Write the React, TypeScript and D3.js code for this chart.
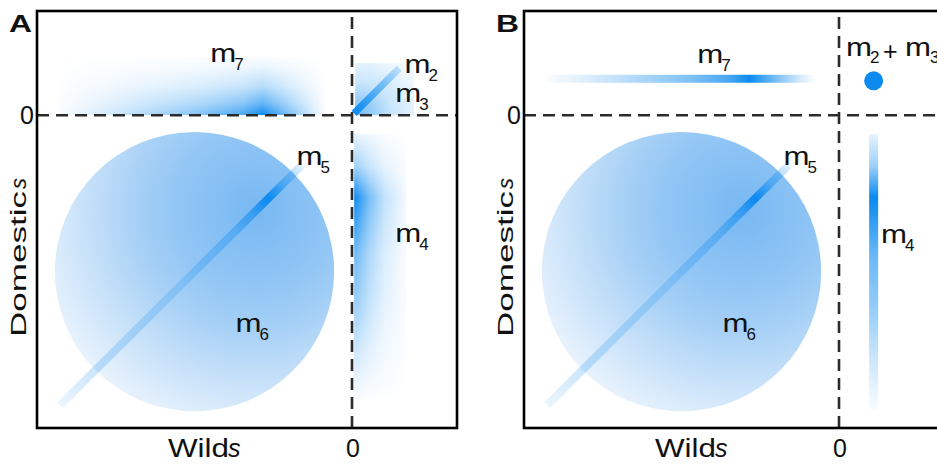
import * as d3 from "d3";

const W = 937;
const H = 464;
const BLUE = "#0b8af0";
const INK = "#111";
const DASH = "#2b2b2b";
const FONT = "'Liberation Sans', Arial, Helvetica, sans-serif";

// both axes are selection coefficients, zero sits at 3/4 of the way
const S_DOMAIN: [number, number] = [-3, 1];
const ZERO_TICK = ["0"];
const PANELS = ["A", "B"];
const X_TITLE = ["Wild", "s"];
const Y_TITLE = ["Domestic", "s"];

// m6: broad cloud, deleterious in both environments
const M6_CENTER = [-1.5, -1.5];
const M6_RADIUS = 1.33;
// m5: perfectly correlated deleterious ray
const M5_RAY = [[-2.78, -2.78], [-0.48, -0.48]];
const M5_PEAK = -0.8;
// m7: beneficial in domestic, deleterious in wild
const M7_WILD = { A: [-2.8, -0.24], B: [-2.78, -0.23] };
const M7_DOM_A = [0, 0.55];
const M7_DOM_B = 0.35;
const M7_PEAK = -0.85;
// m4: beneficial in wild, deleterious in domestic
const M4_DOM = { A: [-2.73, -0.18], B: [-2.83, -0.18] };
const M4_WILD_A = [0.02, 0.52];
const M4_WILD_B = 0.33;
const M4_PEAK = -0.79;
// m2 / m3: beneficial in both
const M3_BOX = [[0.03, 0.59], [0, 0.5]];
const M2_RAY = [[0.02, 0.02], [0.45, 0.45]];
const M23_POINT = [0.33, 0.33];

// label anchors (wild s, domestic s)
const LABELS_A = [
  { sub: "7", at: [-1.33, 0.51] },
  { sub: "2", at: [0.52, 0.405] },
  { sub: "3", at: [0.43, 0.127] },
  { sub: "5", at: [-0.51, -0.477] },
  { sub: "6", at: [-1.09, -2.08] },
  { sub: "4", at: [0.43, -1.216] },
];
const LABELS_B = [
  { sub: "7", at: [-1.33, 0.5] },
  { sub: "5", at: [-0.51, -0.477] },
  { sub: "6", at: [-1.09, -2.08] },
  { sub: "4", at: [0.42, -1.225] },
];
const LABEL_SUM_B = { subs: ["2", "3"], at: [0.086, 0.568] };

const PANEL_LEFT = [37, 524];
const PANEL_W = 420;
const PANEL_TOP = 11;
const PANEL_BOTTOM = 428;

function blueStops(list: number[][]) {
  return list.map(([o, a], i) => (
    <stop key={i} offset={o} stopColor={BLUE} stopOpacity={a} />
  ));
}
function whiteStops(list: number[][]) {
  return list.map(([o, a], i) => (
    <stop key={i} offset={o} stopColor="#fff" stopOpacity={a} />
  ));
}

function MLabel({ x, y, sub }: { x: number; y: number; sub: string }) {
  return (
    <g fill={INK} fontFamily={FONT}>
      <text x={x - 2} y={y} fontSize={25} textLength={26} lengthAdjust="spacingAndGlyphs">m</text>
      <text x={x + 22} y={y + 8} fontSize={17}>{sub}</text>
    </g>
  );
}

function Panel({ id, left }: { id: string; left: number }) {
  const x = d3.scaleLinear().domain(S_DOMAIN).range([left, left + PANEL_W]);
  const y = d3.scaleLinear().domain(S_DOMAIN).range([PANEL_BOTTOM, PANEL_TOP]);
  const k = (s: string) => `${id}-${s}`;
  const x0 = x(0);
  const y0 = y(0);

  // peak positions inside the gradients
  const m7w = M7_WILD[id];
  const p7 = (M7_PEAK - m7w[0]) / (m7w[1] - m7w[0]);
  const m4d = M4_DOM[id];
  const p4 = (m4d[1] - M4_PEAK) / (m4d[1] - m4d[0]);
  const p5 = (M5_PEAK - M5_RAY[0][0]) / (M5_RAY[1][0] - M5_RAY[0][0]);

  const m7Stops = [
    [0, 0.02], [0.2 * p7, 0.15], [0.45 * p7, 0.33], [0.7 * p7, 0.52], [0.9 * p7, 0.75],
    [p7, 1], [p7 + 0.4 * (1 - p7), 0.55], [p7 + 0.75 * (1 - p7), 0.2], [1, 0],
  ];
  const m4Stops = [
    [0, 0.1], [0.5 * p4, 0.4], [p4, 1], [p4 + 0.28 * (1 - p4), 0.6],
    [p4 + 0.5 * (1 - p4), 0.45], [p4 + 0.75 * (1 - p4), 0.22], [1, 0.02],
  ];
  const m5Stops = [
    [0, 0.08], [0.18 * p5, 0.22], [0.58 * p5, 0.2], [0.84 * p5, 0.36], [0.93 * p5, 0.6],
    [p5, 1], [p5 + 0.45 * (1 - p5), 0.45], [1, 0.12],
  ];

  const r6 = x(M6_CENTER[0] + M6_RADIUS) - x(M6_CENTER[0]);

  return (
    <g>
      <defs>
        <radialGradient id={k("m6")} cx={0.72} cy={0.28} r={0.95}>
          <stop offset={0} stopColor="#78b8f3" />
          <stop offset={0.3} stopColor="#92c6f5" />
          <stop offset={0.45} stopColor="#a6d0f6" />
          <stop offset={0.75} stopColor="#d8eafb" />
          <stop offset={1} stopColor="#ffffff" />
        </radialGradient>
        <linearGradient id={k("m5")} gradientUnits="userSpaceOnUse"
          x1={x(M5_RAY[0][0])} y1={y(M5_RAY[0][1])} x2={x(M5_RAY[1][0])} y2={y(M5_RAY[1][1])}>
          {blueStops(m5Stops)}
        </linearGradient>
        <linearGradient id={k("m7h")} x1={0} y1={0} x2={1} y2={0}>
          {blueStops(m7Stops)}
        </linearGradient>
        <linearGradient id={k("m4v")} x1={0} y1={0} x2={0} y2={1}>
          {blueStops(m4Stops)}
        </linearGradient>
        <linearGradient id={k("m7fade")} x1={0} y1={1} x2={0} y2={0}>
          {whiteStops([[0, 1], [0.2, 0.65], [0.5, 0.3], [0.85, 0.08], [1, 0.04]])}
        </linearGradient>
        <linearGradient id={k("m4fade")} x1={0} y1={0} x2={1} y2={0}>
          {whiteStops([[0, 1], [0.29, 0.55], [0.58, 0.25], [1, 0.04]])}
        </linearGradient>
        <radialGradient id={k("m3")} cx={0} cy={1} r={1.15}>
          {blueStops([[0, 0.6], [0.55, 0.22], [1, 0.07]])}
        </radialGradient>
        <linearGradient id={k("m2")} gradientUnits="userSpaceOnUse"
          x1={x(M2_RAY[0][0])} y1={y(M2_RAY[0][1])} x2={x(M2_RAY[1][0])} y2={y(M2_RAY[1][1])}>
          {blueStops([[0, 1], [0.3, 0.7], [1, 0.22]])}
        </linearGradient>
        {id === "A" && (
          <>
            <mask id={k("m7mask")} maskUnits="userSpaceOnUse" x={0} y={0} width={W} height={H}>
              <rect x={x(m7w[0])} y={y(M7_DOM_A[1])} width={x(m7w[1]) - x(m7w[0])}
                height={y(M7_DOM_A[0]) - y(M7_DOM_A[1])} fill={`url(#${k("m7fade")})`} />
            </mask>
            <mask id={k("m4mask")} maskUnits="userSpaceOnUse" x={0} y={0} width={W} height={H}>
              <rect x={x(M4_WILD_A[0])} y={y(m4d[1])} width={x(M4_WILD_A[1]) - x(M4_WILD_A[0])}
                height={y(m4d[0]) - y(m4d[1])} fill={`url(#${k("m4fade")})`} />
            </mask>
          </>
        )}
      </defs>

      {/* m6 cloud */}
      <circle cx={x(M6_CENTER[0])} cy={y(M6_CENTER[1])} r={r6} fill={`url(#${k("m6")})`} />
      {/* m5 ray */}
      <line x1={x(M5_RAY[0][0])} y1={y(M5_RAY[0][1])} x2={x(M5_RAY[1][0])} y2={y(M5_RAY[1][1])}
        stroke={`url(#${k("m5")})`} strokeWidth={8} />

      {id === "A" ? (
        <>
          <rect x={x(m7w[0])} y={y(M7_DOM_A[1])} width={x(m7w[1]) - x(m7w[0])}
            height={y(M7_DOM_A[0]) - y(M7_DOM_A[1])} fill={`url(#${k("m7h")})`}
            mask={`url(#${k("m7mask")})`} />
          <rect x={x(M4_WILD_A[0])} y={y(m4d[1])} width={x(M4_WILD_A[1]) - x(M4_WILD_A[0])}
            height={y(m4d[0]) - y(m4d[1])} fill={`url(#${k("m4v")})`}
            mask={`url(#${k("m4mask")})`} />
          <rect x={x(M3_BOX[0][0])} y={y(M3_BOX[1][1])} width={x(M3_BOX[0][1]) - x(M3_BOX[0][0])}
            height={y(M3_BOX[1][0]) - y(M3_BOX[1][1])} fill={`url(#${k("m3")})`} />
          <line x1={x(M2_RAY[0][0])} y1={y(M2_RAY[0][1])} x2={x(M2_RAY[1][0])} y2={y(M2_RAY[1][1])}
            stroke={`url(#${k("m2")})`} strokeWidth={7} />
        </>
      ) : (
        <>
          <rect x={x(m7w[0])} y={y(M7_DOM_B) - 4} width={x(m7w[1]) - x(m7w[0])} height={8}
            fill={`url(#${k("m7h")})`} />
          <rect x={x(M4_WILD_B) - 4.5} y={y(m4d[1])} width={9} height={y(m4d[0]) - y(m4d[1])}
            fill={`url(#${k("m4v")})`} />
          <circle cx={x(M23_POINT[0])} cy={y(M23_POINT[1])} r={9.5} fill={BLUE} />
        </>
      )}

      {/* zero lines */}
      <line x1={x(S_DOMAIN[0])} x2={x(S_DOMAIN[1])} y1={y0} y2={y0}
        stroke={DASH} strokeWidth={2.6} strokeDasharray="12 7" />
      <line x1={x0} x2={x0} y1={y(S_DOMAIN[0])} y2={y(S_DOMAIN[1])}
        stroke={DASH} strokeWidth={2.6} strokeDasharray="12 7" />

      {/* frame */}
      <rect x={left} y={PANEL_TOP} width={PANEL_W} height={PANEL_BOTTOM - PANEL_TOP}
        fill="none" stroke="#000" strokeWidth={2.6} />

      {/* component labels */}
      {(id === "A" ? LABELS_A : LABELS_B).map((l, i) => (
        <MLabel key={i} x={x(l.at[0])} y={y(l.at[1])} sub={l.sub} />
      ))}
      {id === "B" && (
        <g fill={INK} fontFamily={FONT}>
          <text x={x(LABEL_SUM_B.at[0]) - 2} y={y(LABEL_SUM_B.at[1])} fontSize={25}
            textLength={26} lengthAdjust="spacingAndGlyphs">m</text>
          <text x={x(LABEL_SUM_B.at[0]) + 22} y={y(LABEL_SUM_B.at[1]) + 7} fontSize={17}>{LABEL_SUM_B.subs[0]}</text>
          <text x={x(LABEL_SUM_B.at[0]) + 35} y={y(LABEL_SUM_B.at[1]) + 4} fontSize={25}>+</text>
          <text x={x(LABEL_SUM_B.at[0]) + 57} y={y(LABEL_SUM_B.at[1])} fontSize={25}
            textLength={26} lengthAdjust="spacingAndGlyphs">m</text>
          <text x={x(LABEL_SUM_B.at[0]) + 82} y={y(LABEL_SUM_B.at[1]) + 7} fontSize={17}>{LABEL_SUM_B.subs[1]}</text>
        </g>
      )}

      {/* ticks and titles */}
      <g fill={INK} fontFamily={FONT} fontSize={25}>
        {ZERO_TICK.map((t) => (
          <text key={"x" + t} x={x0 + 1} y={457} textAnchor="middle">{t}</text>
        ))}
        {ZERO_TICK.map((t) => (
          <text key={"y" + t} x={left - 3} y={y0 + 9} textAnchor="end">{t}</text>
        ))}
        <text x={left + 131} y={457} textLength={61} lengthAdjust="spacingAndGlyphs">{X_TITLE[0]}</text>
        <text x={left + 191} y={457} fontStyle="italic">{X_TITLE[1]}</text>
        <g transform={`translate(${left - 11},337) rotate(-90)`} fontSize={22}>
          <text x={0} y={0} textLength={146} lengthAdjust="spacingAndGlyphs">{Y_TITLE[0]}</text>
          <text x={148} y={0} fontStyle="italic">{Y_TITLE[1]}</text>
        </g>
        <text x={left - 28} y={32} fontSize={24} fontWeight="bold"
          textLength={23} lengthAdjust="spacingAndGlyphs">{id}</text>
      </g>
    </g>
  );
}

export default function App() {
  return (
    <svg width={W} height={H} viewBox={`0 0 ${W} ${H}`}
      style={{ position: "absolute", left: 0, top: 0, display: "block", background: "#fff" }}>
      {PANELS.map((id, i) => (
        <Panel key={id} id={id} left={PANEL_LEFT[i]} />
      ))}
    </svg>
  );
}
